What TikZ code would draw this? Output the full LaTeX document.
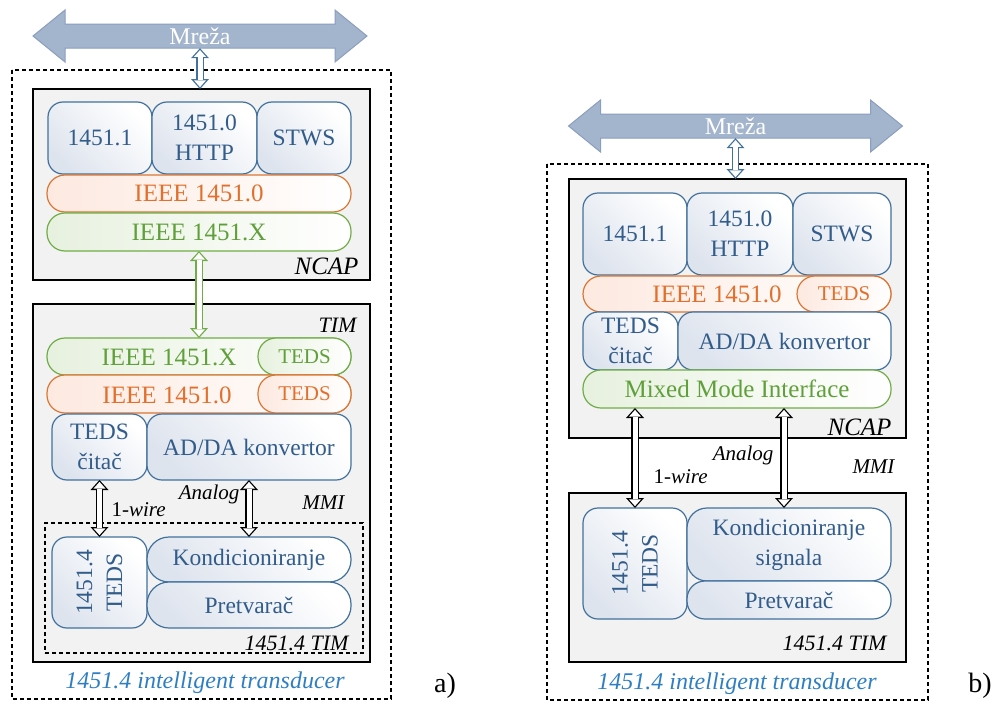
\documentclass[tikz,border=0pt]{standalone}
\usepackage{fontspec}
\setmainfont{Liberation Serif}
\usetikzlibrary{positioning,arrows.meta}

\definecolor{blueB}{RGB}{65,113,156}
\definecolor{blueT}{RGB}{50,92,138}
\definecolor{blueL}{RGB}{222,228,238}
\definecolor{orangeB}{RGB}{220,118,52}
\definecolor{orangeT}{RGB}{226,112,44}
\definecolor{orangeL}{RGB}{253,233,224}
\definecolor{greenB}{RGB}{112,173,71}
\definecolor{greenT}{RGB}{96,160,58}
\definecolor{greenL}{RGB}{231,241,223}
\definecolor{netF}{RGB}{163,180,205}
\definecolor{netB}{RGB}{138,158,189}
\definecolor{capT}{RGB}{46,126,196}
\definecolor{grayF}{RGB}{242,242,242}

\tikzset{
  wh/.style 2 args={minimum width=#1pt, minimum height=#2pt},
  blk/.style={outer sep=0pt, inner sep=1pt, align=center, line width=1.2pt},
  bluebox/.style={blk, draw=blueB, text=blueT, rounded corners=15pt,
    left color=blueL, right color=white, shading angle=135,
    font=\fontsize{23.5}{30}\selectfont},
  orangerow/.style={blk, draw=orangeB, text=orangeT, rounded corners=18pt,
    left color=orangeL, right color=white, font=\fontsize{25}{30}\selectfont},
  greenrow/.style={blk, draw=greenB, text=greenT, rounded corners=18pt,
    left color=greenL, right color=white, font=\fontsize{25}{30}\selectfont},
  rowtxt/.style={font=\fontsize{25}{30}\selectfont},
  tedstag/.style={font=\fontsize{21}{25}\selectfont},
  graybox/.style={draw, line width=1.4pt, fill=grayF, outer sep=0pt, anchor=north west},
  outerbox/.style={line width=2.6pt, dash pattern=on 4pt off 3pt},
  tag/.style={font=\fontsize{22}{26}\selectfont\itshape},
  bigtag/.style={font=\fontsize{25}{28}\selectfont\itshape},
  small/.style={font=\fontsize{21}{25}\selectfont\itshape},
  % hollow double-headed arrow: coloured pass first, white pass on top
  hol/.style={line width=5pt, white, shorten <=1.9pt, shorten >=1.9pt,
    {Triangle[length=6.8pt, width=12.2pt, line width=0pt]}-{Triangle[length=6.8pt, width=12.2pt, line width=0pt]},
    preaction={draw=#1, line width=7.6pt, shorten <=0pt, shorten >=0pt,
      {Triangle[length=10pt, width=18pt, line width=0pt]}-{Triangle[length=10pt, width=18pt, line width=0pt]}}},
  hol/.default=black,
  netarrow/.style={fill=netF, draw=netB, line width=1pt},
  nettxt/.style={font=\fontsize{24}{26}\selectfont, text=white, minimum height=24pt, inner sep=0pt},
}

\begin{document}
\begin{tikzpicture}[x=1pt, y=-1pt]
\useasboundingbox (0,0) rectangle (998,704);

% ===== a) =====
\draw[outerbox] (12,70) rectangle (391,699);

% network bus
\draw[netarrow, shift={(200,36)}] (-167,0) -- (-135,-26) -- (-135,-12) -- (135,-12)
  -- (135,-26) -- (167,0) -- (135,26) -- (135,12) -- (-135,12) -- (-135,26) -- cycle;
\node[nettxt] (netA) at (200,36) {Mreža};

% NCAP
\node[graybox, wh={337}{191}] (ncapA) at (33,89) {};
\node[bluebox, wh={104}{72}, anchor=north west] (std1A) at (48,102) {1451.1};
\node[bluebox, wh={105}{72}, right=0pt of std1A] (httpA) {1451.0\\HTTP};
\node[bluebox, wh={94}{72}, right=0pt of httpA] (stwsA) {STWS};
\node[orangerow, wh={304}{37}, anchor=north west] (ieee0A) at (47,175) {IEEE 1451.0};
\node[greenrow, wh={304}{38}, below=1pt of ieee0A] (ieeexA) {IEEE 1451.X};
\node[bigtag, anchor=east] (ncapAtag) at (362,266) {NCAP};

% TIM
\node[graybox, wh={337}{358}] (timA) at (33,304) {};
\node[tag, anchor=east] (timAtag) at (360,325) {TIM};
\node[greenrow, wh={304}{37}, anchor=north west] (timxA) at (47,338) {};
\node[greenrow, tedstag, wh={93}{37}, anchor=east] (tedsxA) at (timxA.east) {TEDS};
\node[rowtxt, text=greenT] (timxAtxt) at (169,357) {IEEE 1451.X};
\node[orangerow, wh={304}{38}, below=0pt of timxA] (tim0A) {};
\node[orangerow, tedstag, wh={93}{38}, anchor=east] (teds0A) at (tim0A.east) {TEDS};
\node[rowtxt, text=orangeT] (tim0Atxt) at (167,395) {IEEE 1451.0};
\node[bluebox, wh={95}{66}, anchor=north west] (tedsrdA) at (52,414) {TEDS\\čitač};
\node[bluebox, wh={204}{66}, right=0pt of tedsrdA] (adaA) {AD/DA konvertor};
\node[small, anchor=east] (mmiAtag) at (348,503) {MMI};

% 1451.4 TIM
\node[draw, outerbox, line width=2pt, outer sep=0pt, wh={318}{130}, anchor=north west] (tim4A) at (45,523) {};
\node[bluebox, wh={95}{91}, anchor=north west] (teds4A) at (52,537) {};
\node[rotate=90, align=center, text=blueT, font=\fontsize{23.5}{30}\selectfont] (teds4Atxt) at (teds4A.center) {1451.4\\TEDS};
\node[bluebox, wh={204}{45}, rounded corners=22pt, anchor=north west] (kondA) at (147,537) {Kondicioniranje};
\node[bluebox, wh={204}{46}, rounded corners=22pt, below=0pt of kondA] (pretA) {Pretvarač};
\node[tag, anchor=east] (tim4Atag) at (352,643) {1451.4 TIM};

% links
\draw[hol=blueB] (netA.south) -- (netA.south |- ncapA.north);
\draw[hol=greenB] (ieeexA.south) -- (timxA.north);
\draw[hol] (tedsrdA.south) -- (teds4A.north);
\draw[hol] (adaA.south) -- (kondA.north);
\node[small, anchor=west] (wireA) at (108,510) {{\upshape 1-}wire};
\node[small, anchor=east] (analogA) at (243,494) {Analog};

\node[font=\fontsize{24}{26}\selectfont\itshape, text=capT] (capA) at (205,683) {1451.4 intelligent transducer};
\node[font=\fontsize{28}{30}\selectfont] (labA) at (445,686) {a)};

% ===== b) =====
\draw[outerbox] (547,164) rectangle (928,700);

\draw[netarrow, shift={(735.5,126)}] (-167,0) -- (-135,-26) -- (-135,-12) -- (135,-12)
  -- (135,-26) -- (167,0) -- (135,26) -- (135,12) -- (-135,12) -- (-135,26) -- cycle;
\node[nettxt] (netB) at (735.5,126) {Mreža};

% NCAP
\node[graybox, wh={337}{259}] (ncapB) at (569,179) {};
\node[bluebox, wh={104}{82}, anchor=north west] (std1B) at (583,193) {1451.1};
\node[bluebox, wh={106}{82}, right=0pt of std1B] (httpB) {1451.0\\HTTP};
\node[bluebox, wh={98}{82}, right=0pt of httpB] (stwsB) {STWS};
\node[orangerow, wh={308}{36}, anchor=north west] (ieee0B) at (583,276) {};
\node[orangerow, tedstag, wh={94}{36}, anchor=east] (teds0B) at (ieee0B.east) {TEDS};
\node[rowtxt, text=orangeT] (ieee0Btxt) at (717,294) {IEEE 1451.0};
\node[bluebox, wh={95}{58}, anchor=north west] (tedsrdB) at (583,312) {TEDS\\čitač};
\node[bluebox, wh={213}{58}, right=0pt of tedsrdB] (adaB) {AD/DA konvertor};
\node[greenrow, wh={308}{38}, anchor=north west] (mmiB) at (583,370) {Mixed Mode Interface};
\node[bigtag, anchor=east] (ncapBtag) at (895,427) {NCAP};

% 1451.4 TIM
\node[graybox, wh={337}{169}] (timB) at (569,493) {};
\node[bluebox, wh={104}{111}, anchor=north west] (teds4B) at (583,508) {};
\node[rotate=90, align=center, text=blueT, font=\fontsize{23.5}{30}\selectfont] (teds4Btxt) at (teds4B.center) {1451.4\\TEDS};
\node[bluebox, wh={204}{73}, rounded corners=20pt, anchor=north west] (kondB) at (687,508) {Kondicioniranje\\signala};
\node[bluebox, wh={204}{38}, rounded corners=18pt, below=0pt of kondB] (pretB) {Pretvarač};
\node[tag, anchor=east] (tim4Btag) at (890,643) {1451.4 TIM};

% links
\draw[hol=blueB] (netB.south) -- (netB.south |- ncapB.north);
\draw[hol] (teds4B.north |- mmiB.south) -- (teds4B.north);
\draw[hol] (784,408) coordinate (anB) -- (anB |- kondB.north);
\node[small, anchor=west] (wireB) at (650,477) {{\upshape 1-}wire};
\node[small, anchor=east] (analogB) at (777,455) {Analog};
\node[small, anchor=east] (mmiBtag) at (898,467) {MMI};

\node[font=\fontsize{24}{26}\selectfont\itshape, text=capT] (capB) at (737,684) {1451.4 intelligent transducer};
\node[font=\fontsize{28}{30}\selectfont] (labB) at (980,686) {b)};
\end{tikzpicture}
\end{document}
